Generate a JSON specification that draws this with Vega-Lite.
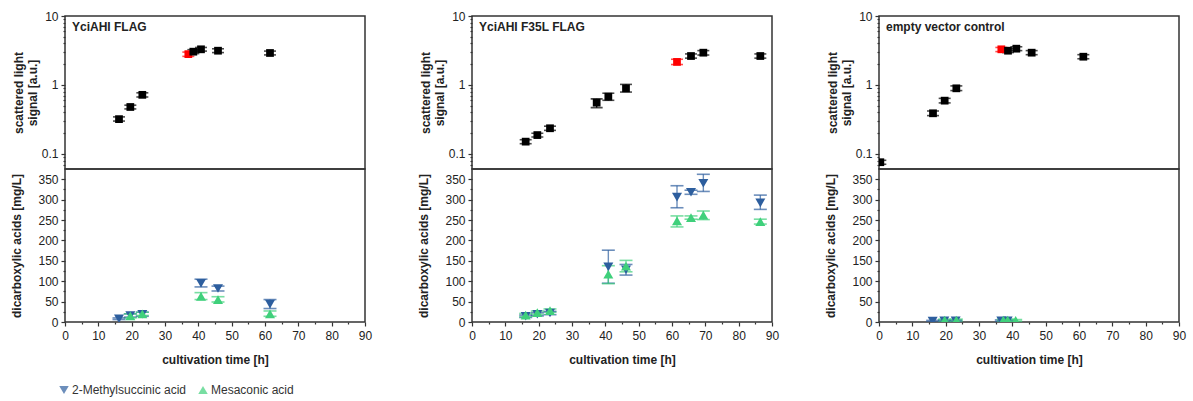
{
  "$schema": "https://vega.github.io/schema/vega-lite/v6.json",
  "padding": {"left": 10, "top": 9, "right": 5, "bottom": 5},
  "background": "white",
  "datasets": {
    "od": [
      {"panel": "A", "t": 16.2, "v": 0.32, "lo": 0.30, "hi": 0.345, "sample": "regular"},
      {"panel": "A", "t": 19.6, "v": 0.48, "lo": 0.45, "hi": 0.51, "sample": "regular"},
      {"panel": "A", "t": 23.2, "v": 0.72, "lo": 0.67, "hi": 0.77, "sample": "regular"},
      {"panel": "A", "t": 37.0, "v": 2.8, "lo": 2.6, "hi": 3.0, "sample": "induction"},
      {"panel": "A", "t": 38.5, "v": 3.04, "lo": 2.85, "hi": 3.25, "sample": "regular"},
      {"panel": "A", "t": 40.8, "v": 3.29, "lo": 3.1, "hi": 3.5, "sample": "regular"},
      {"panel": "A", "t": 45.9, "v": 3.14, "lo": 2.95, "hi": 3.35, "sample": "regular"},
      {"panel": "A", "t": 61.5, "v": 2.91, "lo": 2.73, "hi": 3.1, "sample": "regular"},
      {"panel": "B", "t": 16.1, "v": 0.151, "lo": 0.141, "hi": 0.161, "sample": "regular"},
      {"panel": "B", "t": 19.6, "v": 0.188, "lo": 0.176, "hi": 0.2, "sample": "regular"},
      {"panel": "B", "t": 23.4, "v": 0.236, "lo": 0.22, "hi": 0.253, "sample": "regular"},
      {"panel": "B", "t": 37.4, "v": 0.555, "lo": 0.47, "hi": 0.63, "sample": "regular"},
      {"panel": "B", "t": 40.9, "v": 0.677, "lo": 0.6, "hi": 0.76, "sample": "regular"},
      {"panel": "B", "t": 46.2, "v": 0.895, "lo": 0.79, "hi": 1.02, "sample": "regular"},
      {"panel": "B", "t": 61.5, "v": 2.16, "lo": 1.98, "hi": 2.36, "sample": "induction"},
      {"panel": "B", "t": 65.7, "v": 2.63, "lo": 2.45, "hi": 2.82, "sample": "regular"},
      {"panel": "B", "t": 69.4, "v": 2.94, "lo": 2.72, "hi": 3.15, "sample": "regular"},
      {"panel": "B", "t": 86.5, "v": 2.63, "lo": 2.45, "hi": 2.82, "sample": "regular"},
      {"panel": "C", "t": 0.4, "v": 0.076, "lo": 0.071, "hi": 0.081, "sample": "regular"},
      {"panel": "C", "t": 16.2, "v": 0.389, "lo": 0.36, "hi": 0.42, "sample": "regular"},
      {"panel": "C", "t": 19.7, "v": 0.593, "lo": 0.55, "hi": 0.64, "sample": "regular"},
      {"panel": "C", "t": 23.2, "v": 0.895, "lo": 0.83, "hi": 0.97, "sample": "regular"},
      {"panel": "C", "t": 36.7, "v": 3.29, "lo": 3.05, "hi": 3.5, "sample": "induction"},
      {"panel": "C", "t": 38.7, "v": 3.14, "lo": 2.95, "hi": 3.35, "sample": "regular"},
      {"panel": "C", "t": 41.2, "v": 3.36, "lo": 3.15, "hi": 3.58, "sample": "regular"},
      {"panel": "C", "t": 45.8, "v": 2.94, "lo": 2.75, "hi": 3.15, "sample": "regular"},
      {"panel": "C", "t": 61.3, "v": 2.57, "lo": 2.4, "hi": 2.75, "sample": "regular"}
    ],
    "acid": [
      {"panel": "A", "acid": "2-Methylsuccinic acid", "t": 16.2, "v": 8, "lo": 6, "hi": 10},
      {"panel": "A", "acid": "2-Methylsuccinic acid", "t": 19.6, "v": 16, "lo": 12, "hi": 20},
      {"panel": "A", "acid": "2-Methylsuccinic acid", "t": 23.2, "v": 19, "lo": 14, "hi": 24},
      {"panel": "A", "acid": "2-Methylsuccinic acid", "t": 40.8, "v": 95, "lo": 86, "hi": 105},
      {"panel": "A", "acid": "2-Methylsuccinic acid", "t": 45.9, "v": 82, "lo": 76, "hi": 88},
      {"panel": "A", "acid": "2-Methylsuccinic acid", "t": 61.5, "v": 44, "lo": 33, "hi": 55},
      {"panel": "A", "acid": "Mesaconic acid", "t": 19.6, "v": 15, "lo": 10, "hi": 20},
      {"panel": "A", "acid": "Mesaconic acid", "t": 23.2, "v": 20, "lo": 16, "hi": 24},
      {"panel": "A", "acid": "Mesaconic acid", "t": 40.8, "v": 63, "lo": 55, "hi": 72},
      {"panel": "A", "acid": "Mesaconic acid", "t": 45.9, "v": 55, "lo": 49, "hi": 62},
      {"panel": "A", "acid": "Mesaconic acid", "t": 61.5, "v": 20, "lo": 14, "hi": 27},
      {"panel": "B", "acid": "2-Methylsuccinic acid", "t": 16.1, "v": 14, "lo": 11, "hi": 17},
      {"panel": "B", "acid": "2-Methylsuccinic acid", "t": 19.6, "v": 19, "lo": 15, "hi": 23},
      {"panel": "B", "acid": "2-Methylsuccinic acid", "t": 23.4, "v": 22, "lo": 18, "hi": 26},
      {"panel": "B", "acid": "2-Methylsuccinic acid", "t": 40.9, "v": 135, "lo": 95, "hi": 176},
      {"panel": "B", "acid": "2-Methylsuccinic acid", "t": 46.2, "v": 128, "lo": 115, "hi": 141},
      {"panel": "B", "acid": "2-Methylsuccinic acid", "t": 61.5, "v": 306, "lo": 280, "hi": 334},
      {"panel": "B", "acid": "2-Methylsuccinic acid", "t": 65.7, "v": 318, "lo": 313, "hi": 323},
      {"panel": "B", "acid": "2-Methylsuccinic acid", "t": 69.4, "v": 340, "lo": 320, "hi": 362},
      {"panel": "B", "acid": "2-Methylsuccinic acid", "t": 86.5, "v": 292, "lo": 276, "hi": 311},
      {"panel": "B", "acid": "Mesaconic acid", "t": 16.1, "v": 17, "lo": 13, "hi": 21},
      {"panel": "B", "acid": "Mesaconic acid", "t": 19.6, "v": 23, "lo": 19, "hi": 27},
      {"panel": "B", "acid": "Mesaconic acid", "t": 23.4, "v": 28, "lo": 24, "hi": 32},
      {"panel": "B", "acid": "Mesaconic acid", "t": 40.9, "v": 117, "lo": 94, "hi": 138},
      {"panel": "B", "acid": "Mesaconic acid", "t": 46.2, "v": 137, "lo": 123, "hi": 151},
      {"panel": "B", "acid": "Mesaconic acid", "t": 61.5, "v": 248, "lo": 233, "hi": 260},
      {"panel": "B", "acid": "Mesaconic acid", "t": 65.7, "v": 256, "lo": 252, "hi": 260},
      {"panel": "B", "acid": "Mesaconic acid", "t": 69.4, "v": 262, "lo": 251, "hi": 272},
      {"panel": "B", "acid": "Mesaconic acid", "t": 86.5, "v": 246, "lo": 240, "hi": 252},
      {"panel": "C", "acid": "2-Methylsuccinic acid", "t": 16.1, "v": 2, "lo": 0, "hi": 4},
      {"panel": "C", "acid": "2-Methylsuccinic acid", "t": 19.6, "v": 3, "lo": 1, "hi": 5},
      {"panel": "C", "acid": "2-Methylsuccinic acid", "t": 23.0, "v": 3, "lo": 1, "hi": 5},
      {"panel": "C", "acid": "2-Methylsuccinic acid", "t": 36.7, "v": 3, "lo": 1, "hi": 5},
      {"panel": "C", "acid": "2-Methylsuccinic acid", "t": 38.6, "v": 3, "lo": 1, "hi": 5},
      {"panel": "C", "acid": "Mesaconic acid", "t": 19.7, "v": 5, "lo": 3, "hi": 7},
      {"panel": "C", "acid": "Mesaconic acid", "t": 23.2, "v": 5, "lo": 3, "hi": 7},
      {"panel": "C", "acid": "Mesaconic acid", "t": 37.3, "v": 5, "lo": 3, "hi": 7},
      {"panel": "C", "acid": "Mesaconic acid", "t": 38.6, "v": 5, "lo": 3, "hi": 7},
      {"panel": "C", "acid": "Mesaconic acid", "t": 41.0, "v": 4, "lo": 2, "hi": 6}
    ]
  },
  "hconcat": [
    {
      "spacing": 0,
      "bounds": "flush",
      "resolve": {"scale": {"color": "independent", "shape": "independent"}, "legend": {"color": "independent", "shape": "independent"}},
      "vconcat": [
        {
          "width": 300, "height": 153,
          "title": {"text": "YciAHI FLAG", "anchor": "start", "frame": "group", "offset": -24, "dx": 7, "fontSize": 12, "fontWeight": "bold", "color": "#222", "font": "Liberation Sans"},
          "data": {"name": "od"},
          "transform": [{"filter": "datum.panel == 'A'"}],
          "encoding": {
            "x": {"field": "t", "type": "quantitative", "scale": {"domain": [0, 90], "nice": false}, "axis": null},
            "color": {"field": "sample", "type": "nominal", "scale": {"domain": ["regular", "induction"], "range": ["#000000", "#ff0000"]}, "legend": null}
          },
          "layer": [
            {"mark": {"type": "errorbar", "ticks": {"size": 12, "thickness": 1.6}, "thickness": 1.4, "clip": true},
             "encoding": {
               "y": {"field": "lo", "type": "quantitative", "scale": {"type": "log", "domain": [0.0606, 10], "nice": false}, "title": ["scattered light", "signal [a.u.]"],
                     "axis": {"values": [0.07, 0.08, 0.09, 0.1, 0.2, 0.3, 0.4, 0.5, 0.6, 0.7, 0.8, 0.9, 1, 2, 3, 4, 5, 6, 7, 8, 9, 10], "format": "~g", "labelExpr": "(datum.value == 0.1 || datum.value == 1 || datum.value == 10) ? datum.label : ''", "tickSize": {"condition": {"test": "datum.value == 0.1 || datum.value == 1 || datum.value == 10", "value": 4}, "value": 2}, "labelOverlap": false, "labelFlush": false, "labelPadding": 3, "titlePadding": 2}},
               "y2": {"field": "hi"}
             }},
            {"mark": {"type": "point", "shape": "square", "filled": true, "size": 60, "opacity": 1, "clip": true},
             "encoding": {
               "y": {"field": "v", "type": "quantitative", "title": ["scattered light", "signal [a.u.]"],
                     "axis": {"values": [0.07, 0.08, 0.09, 0.1, 0.2, 0.3, 0.4, 0.5, 0.6, 0.7, 0.8, 0.9, 1, 2, 3, 4, 5, 6, 7, 8, 9, 10], "format": "~g", "labelExpr": "(datum.value == 0.1 || datum.value == 1 || datum.value == 10) ? datum.label : ''", "tickSize": {"condition": {"test": "datum.value == 0.1 || datum.value == 1 || datum.value == 10", "value": 4}, "value": 2}, "labelOverlap": false, "labelFlush": false, "labelPadding": 3, "titlePadding": 2}}
             }}
          ]
        },
        {
          "width": 300, "height": 153,
          "data": {"name": "acid"},
          "transform": [{"filter": "datum.panel == 'A'"}],
          "encoding": {
            "x": {"field": "t", "type": "quantitative", "scale": {"domain": [0, 90], "nice": false}, "title": "cultivation time [h]",
                  "axis": {"values": [0, 5, 10, 15, 20, 25, 30, 35, 40, 45, 50, 55, 60, 65, 70, 75, 80, 85, 90], "labelExpr": "datum.value % 10 == 0 ? datum.label : ''", "tickSize": {"condition": {"test": "datum.value % 10 == 0", "value": 4}, "value": 2}, "labelOverlap": false, "labelFlush": false, "labelPadding": 4, "titlePadding": 13}},
            "color": {"field": "acid", "type": "nominal", "scale": {"domain": ["2-Methylsuccinic acid", "Mesaconic acid"], "range": ["#2d5e9e", "#3fd07b"]},
                      "legend": {"orient": "none", "legendX": -7, "legendY": 215, "direction": "horizontal", "title": null}},
            "shape": {"field": "acid", "type": "nominal", "scale": {"domain": ["2-Methylsuccinic acid", "Mesaconic acid"], "range": ["triangle-down", "triangle-up"]},
                      "legend": {"orient": "none", "legendX": -7, "legendY": 215, "direction": "horizontal", "title": null}}
          },
          "layer": [
            {"mark": {"type": "errorbar", "ticks": {"size": 13, "thickness": 1.6}, "thickness": 1.4, "opacity": 0.7, "clip": true},
             "encoding": {
               "y": {"field": "lo", "type": "quantitative", "scale": {"domain": [0, 375], "nice": false}, "title": "dicarboxylic acids [mg/L]",
                     "axis": {"values": [0, 25, 50, 75, 100, 125, 150, 175, 200, 225, 250, 275, 300, 325, 350], "labelExpr": "datum.value % 50 == 0 ? datum.label : ''", "tickSize": {"condition": {"test": "datum.value % 50 == 0", "value": 4}, "value": 2}, "labelOverlap": false, "labelFlush": false, "labelPadding": 3, "titlePadding": 14}},
               "y2": {"field": "hi"},
               "shape": null
             }},
            {"mark": {"type": "point", "filled": true, "size": 100, "opacity": 1, "clip": true},
             "encoding": {
               "y": {"field": "v", "type": "quantitative", "title": "dicarboxylic acids [mg/L]",
                     "axis": {"values": [0, 25, 50, 75, 100, 125, 150, 175, 200, 225, 250, 275, 300, 325, 350], "labelExpr": "datum.value % 50 == 0 ? datum.label : ''", "tickSize": {"condition": {"test": "datum.value % 50 == 0", "value": 4}, "value": 2}, "labelOverlap": false, "labelFlush": false, "labelPadding": 3, "titlePadding": 14}}
             }}
          ]
        }
      ]
    },
    {
      "spacing": 0,
      "bounds": "flush",
      "resolve": {"scale": {"color": "independent", "shape": "independent"}, "legend": {"color": "independent", "shape": "independent"}},
      "vconcat": [
        {
          "width": 300, "height": 153,
          "title": {"text": "YciAHI F35L FLAG", "anchor": "start", "frame": "group", "offset": -24, "dx": 7, "fontSize": 12, "fontWeight": "bold", "color": "#222", "font": "Liberation Sans"},
          "data": {"name": "od"},
          "transform": [{"filter": "datum.panel == 'B'"}],
          "encoding": {
            "x": {"field": "t", "type": "quantitative", "scale": {"domain": [0, 90], "nice": false}, "axis": null},
            "color": {"field": "sample", "type": "nominal", "scale": {"domain": ["regular", "induction"], "range": ["#000000", "#ff0000"]}, "legend": null}
          },
          "layer": [
            {"mark": {"type": "errorbar", "ticks": {"size": 12, "thickness": 1.6}, "thickness": 1.4, "clip": true},
             "encoding": {
               "y": {"field": "lo", "type": "quantitative", "scale": {"type": "log", "domain": [0.0606, 10], "nice": false}, "title": ["scattered light", "signal [a.u.]"],
                     "axis": {"values": [0.07, 0.08, 0.09, 0.1, 0.2, 0.3, 0.4, 0.5, 0.6, 0.7, 0.8, 0.9, 1, 2, 3, 4, 5, 6, 7, 8, 9, 10], "format": "~g", "labelExpr": "(datum.value == 0.1 || datum.value == 1 || datum.value == 10) ? datum.label : ''", "tickSize": {"condition": {"test": "datum.value == 0.1 || datum.value == 1 || datum.value == 10", "value": 4}, "value": 2}, "labelOverlap": false, "labelFlush": false, "labelPadding": 3, "titlePadding": 2}},
               "y2": {"field": "hi"}
             }},
            {"mark": {"type": "point", "shape": "square", "filled": true, "size": 60, "opacity": 1, "clip": true},
             "encoding": {
               "y": {"field": "v", "type": "quantitative", "title": ["scattered light", "signal [a.u.]"],
                     "axis": {"values": [0.07, 0.08, 0.09, 0.1, 0.2, 0.3, 0.4, 0.5, 0.6, 0.7, 0.8, 0.9, 1, 2, 3, 4, 5, 6, 7, 8, 9, 10], "format": "~g", "labelExpr": "(datum.value == 0.1 || datum.value == 1 || datum.value == 10) ? datum.label : ''", "tickSize": {"condition": {"test": "datum.value == 0.1 || datum.value == 1 || datum.value == 10", "value": 4}, "value": 2}, "labelOverlap": false, "labelFlush": false, "labelPadding": 3, "titlePadding": 2}}
             }}
          ]
        },
        {
          "width": 300, "height": 153,
          "data": {"name": "acid"},
          "transform": [{"filter": "datum.panel == 'B'"}],
          "encoding": {
            "x": {"field": "t", "type": "quantitative", "scale": {"domain": [0, 90], "nice": false}, "title": "cultivation time [h]",
                  "axis": {"values": [0, 5, 10, 15, 20, 25, 30, 35, 40, 45, 50, 55, 60, 65, 70, 75, 80, 85, 90], "labelExpr": "datum.value % 10 == 0 ? datum.label : ''", "tickSize": {"condition": {"test": "datum.value % 10 == 0", "value": 4}, "value": 2}, "labelOverlap": false, "labelFlush": false, "labelPadding": 4, "titlePadding": 13}},
            "color": {"field": "acid", "type": "nominal", "scale": {"domain": ["2-Methylsuccinic acid", "Mesaconic acid"], "range": ["#2d5e9e", "#3fd07b"]}, "legend": null},
            "shape": {"field": "acid", "type": "nominal", "scale": {"domain": ["2-Methylsuccinic acid", "Mesaconic acid"], "range": ["triangle-down", "triangle-up"]}, "legend": null}
          },
          "layer": [
            {"mark": {"type": "errorbar", "ticks": {"size": 13, "thickness": 1.6}, "thickness": 1.4, "opacity": 0.7, "clip": true},
             "encoding": {
               "y": {"field": "lo", "type": "quantitative", "scale": {"domain": [0, 375], "nice": false}, "title": "dicarboxylic acids [mg/L]",
                     "axis": {"values": [0, 25, 50, 75, 100, 125, 150, 175, 200, 225, 250, 275, 300, 325, 350], "labelExpr": "datum.value % 50 == 0 ? datum.label : ''", "tickSize": {"condition": {"test": "datum.value % 50 == 0", "value": 4}, "value": 2}, "labelOverlap": false, "labelFlush": false, "labelPadding": 3, "titlePadding": 14}},
               "y2": {"field": "hi"},
               "shape": null
             }},
            {"mark": {"type": "point", "filled": true, "size": 100, "opacity": 1, "clip": true},
             "encoding": {
               "y": {"field": "v", "type": "quantitative", "title": "dicarboxylic acids [mg/L]",
                     "axis": {"values": [0, 25, 50, 75, 100, 125, 150, 175, 200, 225, 250, 275, 300, 325, 350], "labelExpr": "datum.value % 50 == 0 ? datum.label : ''", "tickSize": {"condition": {"test": "datum.value % 50 == 0", "value": 4}, "value": 2}, "labelOverlap": false, "labelFlush": false, "labelPadding": 3, "titlePadding": 14}}
             }}
          ]
        }
      ]
    },
    {
      "spacing": 0,
      "bounds": "flush",
      "resolve": {"scale": {"color": "independent", "shape": "independent"}, "legend": {"color": "independent", "shape": "independent"}},
      "vconcat": [
        {
          "width": 300, "height": 153,
          "title": {"text": "empty vector control", "anchor": "start", "frame": "group", "offset": -24, "dx": 7, "fontSize": 12, "fontWeight": "bold", "color": "#222", "font": "Liberation Sans"},
          "data": {"name": "od"},
          "transform": [{"filter": "datum.panel == 'C'"}],
          "encoding": {
            "x": {"field": "t", "type": "quantitative", "scale": {"domain": [0, 90], "nice": false}, "axis": null},
            "color": {"field": "sample", "type": "nominal", "scale": {"domain": ["regular", "induction"], "range": ["#000000", "#ff0000"]}, "legend": null}
          },
          "layer": [
            {"mark": {"type": "errorbar", "ticks": {"size": 12, "thickness": 1.6}, "thickness": 1.4, "clip": true},
             "encoding": {
               "y": {"field": "lo", "type": "quantitative", "scale": {"type": "log", "domain": [0.0606, 10], "nice": false}, "title": ["scattered light", "signal [a.u.]"],
                     "axis": {"values": [0.07, 0.08, 0.09, 0.1, 0.2, 0.3, 0.4, 0.5, 0.6, 0.7, 0.8, 0.9, 1, 2, 3, 4, 5, 6, 7, 8, 9, 10], "format": "~g", "labelExpr": "(datum.value == 0.1 || datum.value == 1 || datum.value == 10) ? datum.label : ''", "tickSize": {"condition": {"test": "datum.value == 0.1 || datum.value == 1 || datum.value == 10", "value": 4}, "value": 2}, "labelOverlap": false, "labelFlush": false, "labelPadding": 3, "titlePadding": 2}},
               "y2": {"field": "hi"}
             }},
            {"mark": {"type": "point", "shape": "square", "filled": true, "size": 60, "opacity": 1, "clip": true},
             "encoding": {
               "y": {"field": "v", "type": "quantitative", "title": ["scattered light", "signal [a.u.]"],
                     "axis": {"values": [0.07, 0.08, 0.09, 0.1, 0.2, 0.3, 0.4, 0.5, 0.6, 0.7, 0.8, 0.9, 1, 2, 3, 4, 5, 6, 7, 8, 9, 10], "format": "~g", "labelExpr": "(datum.value == 0.1 || datum.value == 1 || datum.value == 10) ? datum.label : ''", "tickSize": {"condition": {"test": "datum.value == 0.1 || datum.value == 1 || datum.value == 10", "value": 4}, "value": 2}, "labelOverlap": false, "labelFlush": false, "labelPadding": 3, "titlePadding": 2}}
             }}
          ]
        },
        {
          "width": 300, "height": 153,
          "data": {"name": "acid"},
          "transform": [{"filter": "datum.panel == 'C'"}],
          "encoding": {
            "x": {"field": "t", "type": "quantitative", "scale": {"domain": [0, 90], "nice": false}, "title": "cultivation time [h]",
                  "axis": {"values": [0, 5, 10, 15, 20, 25, 30, 35, 40, 45, 50, 55, 60, 65, 70, 75, 80, 85, 90], "labelExpr": "datum.value % 10 == 0 ? datum.label : ''", "tickSize": {"condition": {"test": "datum.value % 10 == 0", "value": 4}, "value": 2}, "labelOverlap": false, "labelFlush": false, "labelPadding": 4, "titlePadding": 13}},
            "color": {"field": "acid", "type": "nominal", "scale": {"domain": ["2-Methylsuccinic acid", "Mesaconic acid"], "range": ["#2d5e9e", "#3fd07b"]}, "legend": null},
            "shape": {"field": "acid", "type": "nominal", "scale": {"domain": ["2-Methylsuccinic acid", "Mesaconic acid"], "range": ["triangle-down", "triangle-up"]}, "legend": null}
          },
          "layer": [
            {"mark": {"type": "errorbar", "ticks": {"size": 13, "thickness": 1.6}, "thickness": 1.4, "opacity": 0.7, "clip": true},
             "encoding": {
               "y": {"field": "lo", "type": "quantitative", "scale": {"domain": [0, 375], "nice": false}, "title": "dicarboxylic acids [mg/L]",
                     "axis": {"values": [0, 25, 50, 75, 100, 125, 150, 175, 200, 225, 250, 275, 300, 325, 350], "labelExpr": "datum.value % 50 == 0 ? datum.label : ''", "tickSize": {"condition": {"test": "datum.value % 50 == 0", "value": 4}, "value": 2}, "labelOverlap": false, "labelFlush": false, "labelPadding": 3, "titlePadding": 14}},
               "y2": {"field": "hi"},
               "shape": null
             }},
            {"mark": {"type": "point", "filled": true, "size": 100, "opacity": 1, "clip": true},
             "encoding": {
               "y": {"field": "v", "type": "quantitative", "title": "dicarboxylic acids [mg/L]",
                     "axis": {"values": [0, 25, 50, 75, 100, 125, 150, 175, 200, 225, 250, 275, 300, 325, 350], "labelExpr": "datum.value % 50 == 0 ? datum.label : ''", "tickSize": {"condition": {"test": "datum.value % 50 == 0", "value": 4}, "value": 2}, "labelOverlap": false, "labelFlush": false, "labelPadding": 3, "titlePadding": 14}}
             }}
          ]
        }
      ]
    }
  ],
  "spacing": 44,
  "resolve": {"scale": {"color": "independent", "shape": "independent"}, "legend": {"color": "independent", "shape": "independent"}},
  "config": {
    "font": "Liberation Sans",
    "view": {"stroke": "#333333", "strokeWidth": 1.5},
    "axis": {"labelFont": "Liberation Sans", "titleFont": "Liberation Sans", "labelFontSize": 12, "labelColor": "#222222", "titleFontSize": 12, "titleFontWeight": "bold", "titleColor": "#222222", "domain": false, "grid": false, "tickColor": "#333333", "tickWidth": 1.2},
    "legend": {"labelFont": "Liberation Sans", "labelFontSize": 12, "labelColor": "#333333", "symbolSize": 90, "symbolStrokeWidth": 0, "columnPadding": 10, "labelOffset": 2}
  }
}
